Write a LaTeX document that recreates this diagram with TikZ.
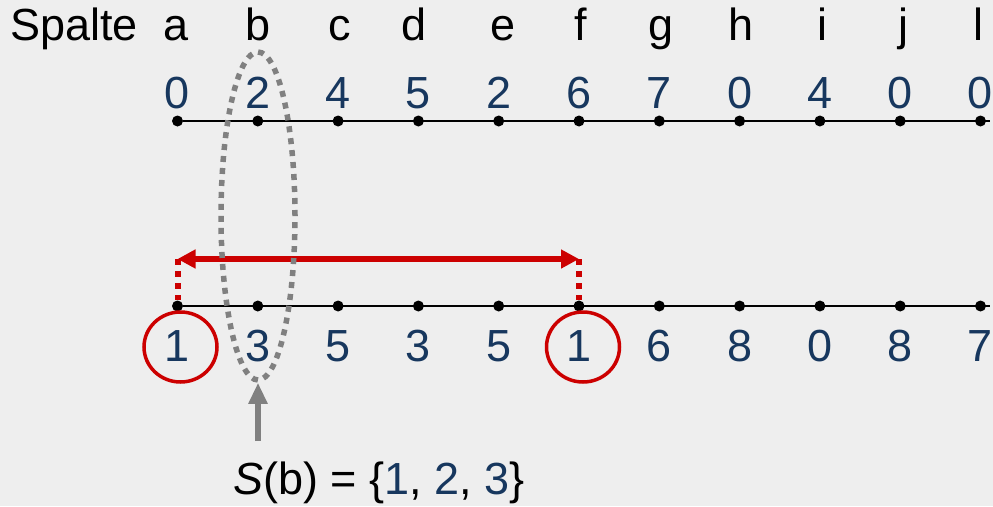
\documentclass[tikz,border=0pt]{standalone}
\usepackage{fontspec}
\setmainfont{Liberation Sans}
\usetikzlibrary{arrows.meta,shapes.geometric}
\definecolor{numblue}{RGB}{23,55,94}
\definecolor{markred}{RGB}{204,0,0}
\definecolor{bggray}{RGB}{238,238,238}

\begin{document}
\begin{tikzpicture}[
x=1pt, y=-1pt,
font=\fontsize{45}{52}\selectfont,
collabel/.style={anchor=base, inner sep=0pt},
val/.style={anchor=base, inner sep=0pt, text=numblue},
dot/.style={circle, fill=black, inner sep=0pt, minimum size=11pt},
axis/.style={line width=2.6pt},
redcirc/.style={draw=markred, line width=3.5pt, ellipse, minimum width=73pt, minimum height=70pt},
redarrow/.style={{Triangle[length=18pt,width=18pt]}-{Triangle[length=18pt,width=18pt]}, line width=6pt, markred},
reddots/.style={markred, line width=6pt, dash pattern=on 6pt off 6pt},
selring/.style={draw=gray, line width=5.5pt, dash pattern=on 6pt off 6pt, ellipse, minimum width=74pt, minimum height=328pt},
grayarrow/.style={-{Triangle[length=21pt,width=18pt]}, line width=6pt, gray}
]
\fill[bggray] (0,0) rectangle (993,506);
\clip (0,0) rectangle (993,506);

\node[collabel, anchor=base west] (spalte) at (10,40) {Spalte};

% columns: name / letter x / top value / bottom value
\foreach \n/\lx/\tv/\bv [count=\k from 0] in {a/176/0/1, b/258/2/3, c/340/4/5, d/414/5/3, e/503/2/5, f/581/6/1, g/661/7/6, h/741/0/8, i/822/4/0, j/903/0/8, l/978/0/7} {
  \pgfmathsetmacro{\cx}{177.5+80.3*\k}
  \node[collabel] (c-\n) at (\lx,40) {\n};
  \node[val] (t-\n) at (\cx,108) {\tv};
  \node[dot] (td-\n) at (\cx,121) {};
  \node[dot] (bd-\n) at (\cx,306) {};
  \node[val] (b-\n) at (\cx,361) {\bv};
}

\coordinate (top-end) at (990,121);
\coordinate (bot-end) at (990,306);
\draw[axis] (td-a) -- (top-end);
\draw[axis] (bd-a) -- (bot-end);

% red marks
\node[redcirc] (ring-a) at (180.5,347) {};
\node[redcirc] (ring-f) at (583,347) {};
\coordinate (arr-a) at (bd-a |- 0,259);
\coordinate (arr-f) at (bd-f |- 0,259);
\draw[reddots] (arr-a) -- (bd-a);
\draw[reddots] (arr-f) -- (bd-f);
\draw[redarrow] (arr-a) -- (arr-f);

% selected column
\node[selring] (sel) at (258,216) {};
\coordinate (hint) at (258,441);
\draw[grayarrow] (hint) -- (sel.south);

\node[anchor=base west, inner sep=0pt] (setb) at (233,494) {\textit{S}(b) = \{\textcolor{numblue}{1}, \textcolor{numblue}{2}, \textcolor{numblue}{3}\}};

\end{tikzpicture}
\end{document}
